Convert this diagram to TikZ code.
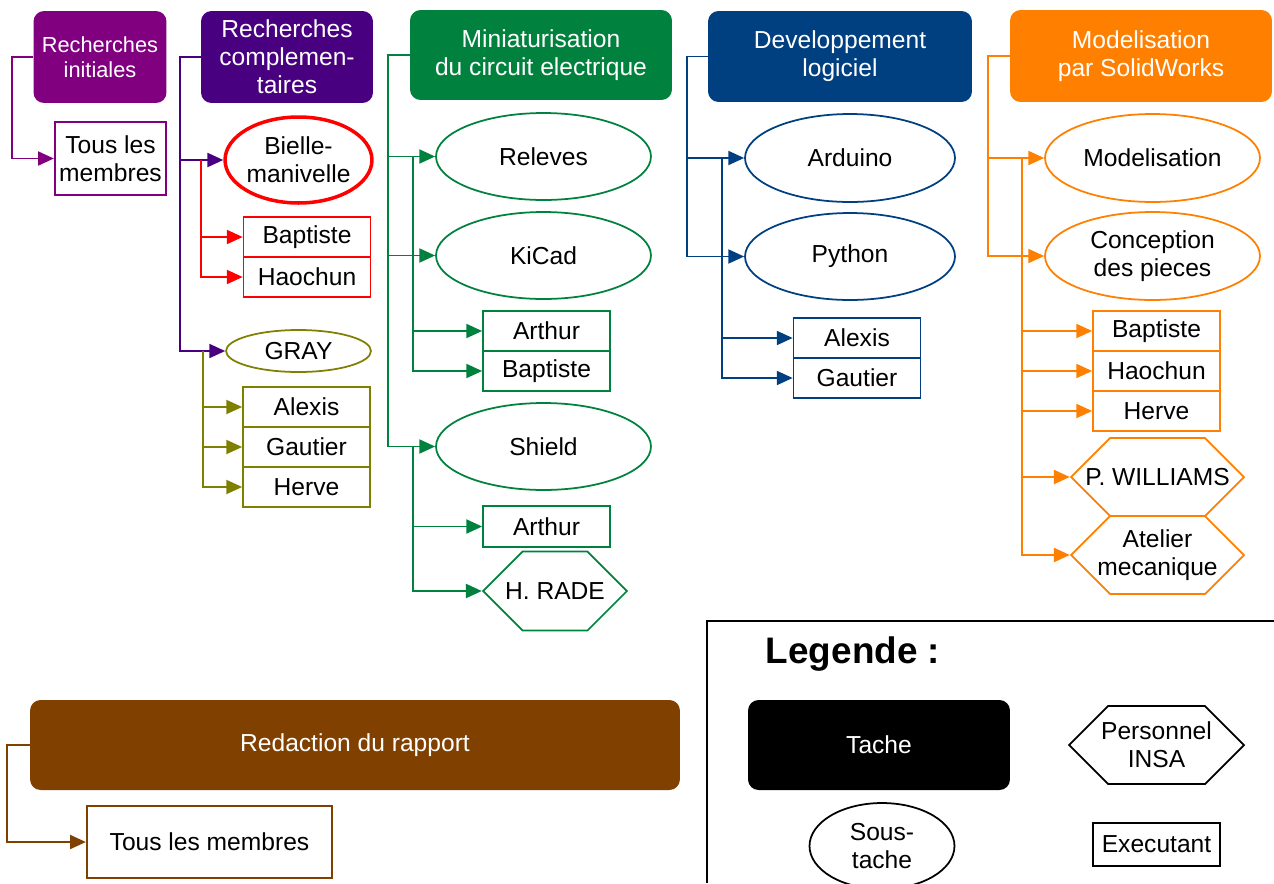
\documentclass[tikz,border=0pt]{standalone}
\usepackage{fontspec}
\setmainfont{Liberation Sans}
\usepackage{xcolor}
\usetikzlibrary{arrows.meta, positioning, calc, shapes.geometric, shapes.symbols}
\definecolor{cinit}{RGB}{128,0,128}
\definecolor{ccomp}{RGB}{72,0,128}
\definecolor{cbielle}{RGB}{255,0,0}
\definecolor{cgray}{RGB}{128,128,0}
\definecolor{cmini}{RGB}{0,130,62}
\definecolor{clog}{RGB}{0,64,128}
\definecolor{csolid}{RGB}{255,128,0}
\definecolor{credac}{RGB}{128,64,0}
\newcommand\bodyfont{\fontsize{14}{16}\selectfont}

\tikzset{
  task/.style={rectangle, rounded corners=6pt, fill=#1, text=white, align=center,
    inner sep=0pt, font=\bodyfont},
  subtask/.style={ellipse, draw=#1, line width=1pt, fill=white, align=center,
    inner sep=0pt, minimum width=4.3cm, minimum height=1.74cm, font=\bodyfont},
  worker/.style={rectangle, draw=#1, line width=1pt, fill=white, align=center,
    inner sep=0pt, minimum width=2.54cm, minimum height=0.8cm, font=\bodyfont},
  staff/.style={signal, signal to=west and east, signal pointer angle=90, draw=#1,
    line width=1pt, fill=white, align=center, inner ysep=0pt, inner xsep=-2cm,
    minimum width=3.46cm, minimum height=1.56cm, font=\bodyfont},
  link/.style={draw=#1, line width=1pt, -{Triangle[length=9pt,width=8pt]}},
}

\begin{document}
\begin{tikzpicture}[x=0.02cm, y=-0.02cm]
  \useasboundingbox (0,0) rectangle (1274,883);
  \clip (0,0) rectangle (1274,883);

  % Recherches initiales
  \node[task=cinit, minimum width=2.66cm, minimum height=1.84cm,
    font=\fontsize{12.4}{14.2}\selectfont] (ri) at (100,57) {Recherches\\initiales};
  \node[worker=cinit, line width=1.3pt, minimum width=2.22cm, minimum height=1.46cm]
    (tm1) at (110.5,158.5) {Tous les\\membres};
  \draw[link=cinit] (ri.west) -- ++(-21,0) |- (tm1.west);

  % Recherches complementaires
  \node[task=ccomp, minimum width=3.44cm, minimum height=1.84cm] (rc) at (287,57)
    {Recherches\\complemen-\\taires};
  \node[subtask=cbielle, line width=2pt, minimum width=2.9cm, minimum height=1.72cm]
    (bm) at (298.5,160) {Bielle-\\manivelle};
  \node[worker=cbielle] (b1) at (307,237) {Baptiste};
  \node[worker=cbielle] (b2) at (307,277) {Haochun};
  \node[subtask=cgray, minimum width=2.9cm, minimum height=0.84cm] (gray) at (298.5,351) {GRAY};
  \node[worker=cgray] (g1) at (306.5,407) {Alexis};
  \node[worker=cgray] (g2) at (306.5,447) {Gautier};
  \node[worker=cgray] (g3) at (306.5,487) {Herve};
  \foreach \t in {bm,gray}
    \draw[link=ccomp] (rc.west) -- ++(-21,0) |- (\t.west);
  \foreach \t in {b1,b2}
    \draw[link=cbielle] ($(bm.west)+(-22,0)$) |- (\t.west);
  \foreach \t in {g1,g2,g3}
    \draw[link=cgray] ($(gray.west)+(-22,0)$) |- (\t.west);

  % Miniaturisation du circuit
  \node[task=cmini, minimum width=5.24cm, minimum height=1.8cm] (mc) at (541,55)
    {Miniaturisation\\du circuit electrique};
  \node[subtask=cmini] (rel) at (543.5,156.5) {Releves};
  \node[subtask=cmini] (kic) at (543.5,255.5) {KiCad};
  \node[worker=cmini] (m1) at (546.5,331) {Arthur};
  \node[worker=cmini] (m2) at (546.5,371) {Baptiste};
  \node[subtask=cmini] (shd) at (543.5,446.5) {Shield};
  \node[worker=cmini, minimum height=0.82cm] (m3) at (546.5,526.5) {Arthur};
  \node[staff=cmini, minimum width=2.88cm, minimum height=1.58cm] (rade) at (555,591) {H. RADE};
  \foreach \t in {rel,kic,shd}
    \draw[link=cmini] (mc.west) -- ++(-22,0) |- (\t.west);
  \foreach \t in {m1,m2}
    \draw[link=cmini] ($(rel.west)+(-22,0)$) |- (\t.west);
  \foreach \t in {m3,rade}
    \draw[link=cmini] ($(shd.west)+(-22,0)$) |- (\t.west);

  % Developpement logiciel
  \node[task=clog, minimum width=5.28cm, minimum height=1.82cm] (dl) at (840,56.5)
    {Developpement\\logiciel};
  \node[subtask=clog, minimum width=4.2cm, minimum height=1.76cm] (ard) at (850,158) {Arduino};
  \node[subtask=clog, minimum width=4.2cm] (pyt) at (850,256.5) {Python};
  \node[worker=clog] (l1) at (857,338) {Alexis};
  \node[worker=clog] (l2) at (857,378) {Gautier};
  \foreach \t in {ard,pyt}
    \draw[link=clog] (dl.west) -- ++(-21,0) |- (\t.west);
  \foreach \t in {l1,l2}
    \draw[link=clog] ($(ard.west)+(-22,0)$) |- (\t.west);

  % Modelisation SolidWorks
  \node[task=csolid, minimum width=5.24cm, minimum height=1.84cm] (ms) at (1141,56)
    {Modelisation\\par SolidWorks};
  \node[subtask=csolid, minimum height=1.76cm] (mod) at (1152.5,158) {Modelisation};
  \node[subtask=csolid, minimum height=1.76cm] (con) at (1152.5,256) {Conception\\des pieces};
  \node[worker=csolid] (s1) at (1156.5,331) {Baptiste};
  \node[worker=csolid] (s2) at (1156.5,371) {Haochun};
  \node[worker=csolid] (s3) at (1156.5,411) {Herve};
  \node[staff=csolid] (pw) at (1157.5,477) {P. WILLIAMS};
  \node[staff=csolid] (am) at (1157.5,555) {Atelier\\mecanique};
  \foreach \t in {mod,con}
    \draw[link=csolid] (ms.west) -- ++(-22,0) |- (\t.west);
  \foreach \t in {s1,s2,s3,pw,am}
    \draw[link=csolid] ($(mod.west)+(-22,0)$) |- (\t.west);

  % Redaction du rapport
  \node[task=credac, minimum width=13cm, minimum height=1.8cm] (rr) at (355,745)
    {Redaction du rapport};
  \node[worker=credac, line width=1.3pt, minimum width=4.9cm, minimum height=1.44cm]
    (tm2) at (209.5,842) {Tous les membres};
  \draw[link=credac] (rr.west) -- ++(-23,0) |- (tm2.west);

  % Legende
  \draw[line width=1pt] (707,883) -- (707,621) -- (1274,621);
  \node[font=\fontsize{21}{24}\selectfont\bfseries] (leg) at (853,654) {Legende :};
  \node[task=black, minimum width=5.24cm, minimum height=1.8cm] (lt) at (879,745) {Tache};
  \node[staff=black, minimum width=3.5cm] (lp) at (1156.5,745) {Personnel\\INSA};
  \node[subtask=black, minimum width=2.9cm, minimum height=1.72cm] (ls) at (882,846) {Sous-\\tache};
  \node[worker=black, minimum height=0.86cm] (lx) at (1156.5,844.5) {Executant};
\end{tikzpicture}
\end{document}
